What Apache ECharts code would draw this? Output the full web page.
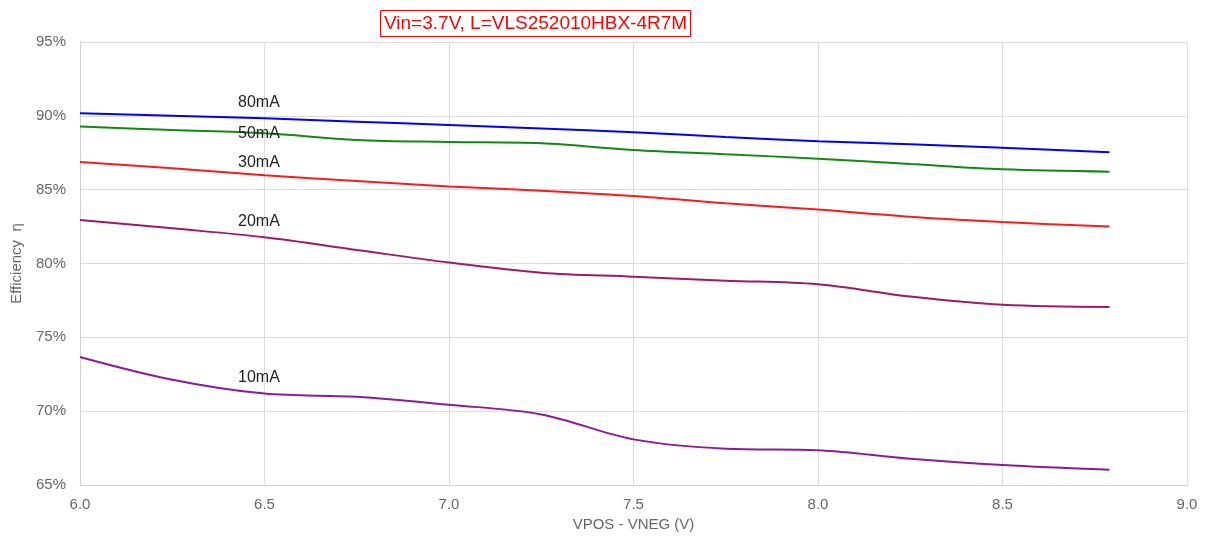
<!DOCTYPE html>
<html><head><meta charset="utf-8">
<script src="https://cdn.jsdelivr.net/npm/echarts@6/dist/echarts.min.js"></script>
<style>html,body{margin:0;padding:0;background:#fff}#c{width:1205px;height:541px}</style>
</head><body><div id="c"></div>
<script>
var xs = [6.0, 6.25, 6.5, 6.75, 7.0, 7.25, 7.5, 7.75, 8.0, 8.25, 8.5, 8.79];
var eff80 = [90.17, 90.0, 89.83, 89.6, 89.38, 89.15, 88.89, 88.57, 88.28, 88.07, 87.84, 87.53];
var eff50 = [89.27, 89.04, 88.82, 88.37, 88.23, 88.14, 87.69, 87.4, 87.1, 86.74, 86.38, 86.22];
var eff30 = [86.88, 86.45, 85.97, 85.59, 85.22, 84.93, 84.57, 84.08, 83.65, 83.17, 82.81, 82.5];
var eff20 = [82.95, 82.38, 81.78, 80.92, 80.06, 79.38, 79.11, 78.84, 78.59, 77.76, 77.2, 77.06];
var eff10 = [73.67, 72.13, 71.19, 70.97, 70.43, 69.78, 68.09, 67.46, 67.36, 66.78, 66.35, 66.03];
var seriesNames = ['80mA', '50mA', '30mA', '20mA', '10mA'];
var labelPos = [[6.485, 90.87], [6.485, 88.77], [6.485, 86.81], [6.485, 82.81], [6.485, 72.25]];
var colors = ['#0000ff', '#108a10', '#ff1a1a', '#a0186e', '#8e1a96'];
var title = 'Vin=3.7V, L=VLS252010HBX-4R7M';
var xName = 'VPOS - VNEG (V)';
var yName = 'Efficiency  η';

function pairs(v){ return xs.map(function(x,i){ return [x, v[i]]; }); }
var all = [eff80, eff50, eff30, eff20, eff10];
var FF = 'Liberation Sans, Arial, sans-serif';
var series = all.map(function(v, i){
  return {
    type: 'line', name: seriesNames[i], data: pairs(v), smooth: 0.35,
    showSymbol: false, symbol: 'none',
    lineStyle: {color: colors[i], width: 2}, itemStyle: {color: colors[i]},
    markPoint: {
      symbol: 'rect', symbolSize: 1, itemStyle: {color: 'rgba(0,0,0,0)'},
      label: {show: true, formatter: seriesNames[i], color: '#222', fontSize: 16, fontFamily: FF, position: 'inside'},
      data: [{coord: labelPos[i]}]
    }
  };
});
var chart = echarts.init(document.getElementById('c'), null, {renderer: 'canvas'});
chart.setOption({
  animation: false,
  textStyle: {fontFamily: FF},
  title: {
    text: title, left: 380, top: 10, padding: [4, 4, 4, 4],
    borderColor: '#ff0000', borderWidth: 1,
    textStyle: {color: '#ff0000', fontSize: 19, fontWeight: 'normal', fontFamily: FF}
  },
  grid: {left: 80, right: 18, top: 42, bottom: 56, containLabel: false, outerBoundsMode: 'none'},
  xAxis: {
    type: 'value', min: 6, max: 9, interval: 0.5,
    name: xName, nameLocation: 'middle', nameGap: 30,
    nameTextStyle: {color: '#666', fontSize: 15},
    axisLine: {show: true, lineStyle: {color: '#d0d0d0', width: 1}},
    axisTick: {show: false},
    axisLabel: {color: '#666', fontSize: 15, margin: 12, formatter: function(v){ return v.toFixed(1); }},
    splitLine: {show: true, lineStyle: {color: '#dcdcdc', width: 1}}
  },
  yAxis: {
    type: 'value', min: 65, max: 95, interval: 5,
    name: yName, nameLocation: 'middle', nameGap: 56,
    nameTextStyle: {color: '#666', fontSize: 15},
    axisLine: {show: true, lineStyle: {color: '#d0d0d0', width: 1}},
    axisTick: {show: false},
    axisLabel: {color: '#666', fontSize: 15, margin: 14, formatter: '{value}%'},
    splitLine: {show: true, lineStyle: {color: '#dcdcdc', width: 1}}
  },
  series: series
});
</script>
</body></html>
